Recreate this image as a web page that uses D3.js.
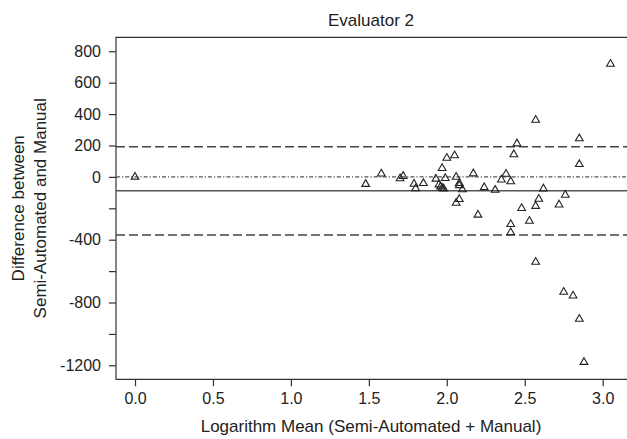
<!DOCTYPE html>
<html>
<head>
<meta charset="utf-8">
<script src="https://cdn.jsdelivr.net/npm/d3@7"></script>
<style>
  body { margin: 0; background: #fff; }
  text { font-family: "Liberation Sans", Arial, sans-serif; fill: #222; }
</style>
</head>
<body>
<div id="display"></div>
<script>
// log mean of the two methods
var logMean = [0.00, 1.48, 1.58, 1.70, 1.72, 1.79, 1.80, 1.85, 1.93, 1.95,
  1.96, 1.97, 1.98, 1.99, 1.97, 2.00, 2.05, 2.06, 2.08, 2.08,
  2.10, 2.08, 2.06, 2.17, 2.20, 2.24, 2.31, 2.38, 2.35, 2.41,
  2.45, 2.43, 2.48, 2.53, 2.41, 2.41, 2.57, 2.62, 2.59, 2.57,
  2.76, 2.72, 2.85, 2.85, 3.05, 2.57, 2.75, 2.81, 2.85, 2.88];
// semi-automated minus manual
var diff = [0, -46, 20, -10, 5, -45, -74, -41, -13, -49,
  -62, -71, -75, -9, 55, 120, 136, -1, -41, -54,
  -80, -142, -166, 21, -242, -67, -84, 18, -18, -29,
  212, 143, -200, -281, -302, -354, 362, -75, -141, -186,
  -115, -177, 244, 80, 719, -542, -733, -757, -905, -1180];

var meanDiff = -88;
var upperLoA = 192;
var lowerLoA = -370;

var xTicks = [0, 0.5, 1, 1.5, 2, 2.5, 3];
var yTicks = [800, 600, 400, 200, 0, -200, -400, -600, -800, -1000, -1200];
var yLabelled = [800, 600, 400, 200, 0, -400, -800, -1200];

var W = 627, H = 439;
var margin = {left: 116, top: 37.3, bottom: 379.3, right: 627};

var svg = d3.select("#display").append("svg")
    .attr("width", W)
    .attr("height", H);

var x = d3.scaleLinear().domain([-0.122, 3.156]).range([margin.left, margin.right]);
var y = d3.scaleLinear().domain([-1289, 889]).range([margin.bottom, margin.top]);

// frame (right side is cut off in the original)
svg.append("path")
    .attr("d", "M" + margin.right + "," + margin.top + "H" + margin.left +
      "V" + margin.bottom + "H" + margin.right)
    .attr("fill", "none")
    .attr("stroke", "#333")
    .attr("stroke-width", 1.2);

// reference lines
function hline(v, dash, colour, w) {
  svg.append("line")
      .attr("x1", margin.left).attr("x2", margin.right)
      .attr("y1", y(v)).attr("y2", y(v))
      .attr("stroke", colour)
      .attr("stroke-width", w)
      .attr("stroke-dasharray", dash);
}
hline(upperLoA, "9,4", "#444", 1.3);
hline(lowerLoA, "9,4", "#444", 1.3);
hline(0, "4,2,1.2,2", "#555", 1.1);
hline(meanDiff, null, "#555", 1.5);

// axes
var xAxis = svg.append("g")
    .attr("transform", "translate(0," + margin.bottom + ")")
    .call(d3.axisBottom(x).tickValues(xTicks).tickSize(7).tickPadding(6)
      .tickFormat(d3.format(".1f")));
xAxis.select(".domain").remove();
xAxis.selectAll("line").attr("stroke", "#333").attr("stroke-width", 1.2);
xAxis.selectAll("text").attr("font-size", 16).attr("fill", "#222")
    .attr("font-family", "Liberation Sans, Arial, sans-serif");

var yAxis = svg.append("g")
    .attr("transform", "translate(" + margin.left + ",0)")
    .call(d3.axisLeft(y).tickValues(yTicks).tickSize(7).tickPadding(8)
      .tickFormat(function(d) { return yLabelled.indexOf(d) >= 0 ? d : ""; }));
yAxis.select(".domain").remove();
yAxis.selectAll("line").attr("stroke", "#333").attr("stroke-width", 1.2);
yAxis.selectAll("text").attr("font-size", 16).attr("fill", "#222")
    .attr("font-family", "Liberation Sans, Arial, sans-serif");

// points
var tri = d3.symbol().type(d3.symbolTriangle).size(26);
svg.append("g")
  .selectAll("path")
  .data(logMean.map(function(d, i) { return {x: d, y: diff[i]}; }))
  .enter().append("path")
    .attr("d", tri)
    .attr("transform", function(d) { return "translate(" + x(d.x) + "," + y(d.y) + ")"; })
    .attr("fill", "none")
    .attr("stroke", "#222")
    .attr("stroke-width", 1.1);

// titles
svg.append("text")
    .attr("x", 371).attr("y", 26)
    .attr("text-anchor", "middle")
    .attr("font-size", 17)
    .text("Evaluator 2");

svg.append("text")
    .attr("x", 371).attr("y", 432)
    .attr("text-anchor", "middle")
    .attr("font-size", 17)
    .text("Logarithm Mean (Semi-Automated + Manual)");

var yTitle = svg.append("text")
    .attr("transform", "translate(0," + ((margin.top + margin.bottom) / 2) + ") rotate(-90)")
    .attr("text-anchor", "middle")
    .attr("font-size", 17);
yTitle.append("tspan").attr("x", 0).attr("y", 24).text("Difference between");
yTitle.append("tspan").attr("x", 0).attr("y", 46).text("Semi-Automated and Manual");
</script>
</body>
</html>
